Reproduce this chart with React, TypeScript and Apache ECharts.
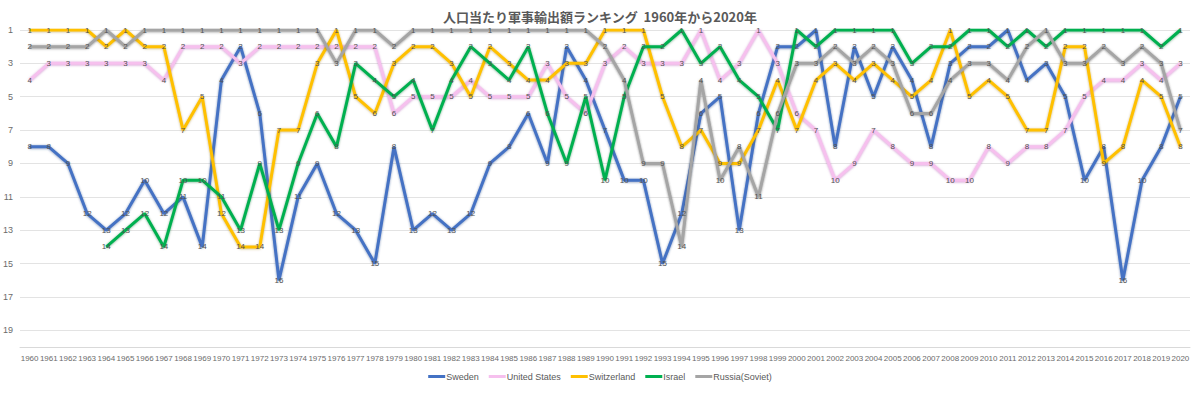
import React, { useEffect, useRef } from "react";
import * as echarts from "echarts";

const years: string[] = [];
for (let y = 1960; y <= 2020; y++) years.push(String(y));

const seriesNames = ["Sweden", "United States", "Switzerland", "Israel", "Russia(Soviet)"];

// 1960 .. 2020
const sweden = [
  8, 8, 9, 12, 13, 12, 10, 12, 11, 14,
  4, 2, 6, 16, 11, 9, 12, 13, 15, 8,
  13, 12, 13, 12, 9, 8, 6, 9, 2, 4,
  7, 10, 10, 15, 12, 6, 5, 13, 6, 2,
  2, 1, 8, 2, 5, 2, 4, 8, 3, 2,
  2, 1, 4, 3, 5, 10, 8, 16, 10, 8,
  5,
];
const unitedStates = [
  4, 3, 3, 3, 3, 3, 3, 4, 2, 2,
  2, 3, 2, 2, 2, 2, 2, 2, 2, 6,
  5, 5, 5, 4, 5, 5, 5, 3, 5, 6,
  3, 2, 3, 3, 3, 1, 4, 3, 1, 3,
  6, 7, 10, 9, 7, 8, 9, 9, 10, 10,
  8, 9, 8, 8, 7, 5, 4, 4, 3, 4,
  3,
];
const switzerland = [
  1, 1, 1, 1, 2, 1, 2, 2, 7, 5,
  12, 14, 14, 7, 7, 3, 1, 5, 6, 3,
  2, 2, 3, 5, 2, 3, 4, 4, 3, 3,
  1, 1, 1, 5, 8, 7, 9, 9, 7, 4,
  7, 4, 3, 4, 3, 4, 5, 4, 1, 5,
  4, 5, 7, 7, 2, 2, 9, 8, 4, 5,
  8,
];
const israel: (number | null)[] = [
  null, null, null, null, 14, 13, 12, 14, 10, 10,
  11, 13, 9, 13, 9, 6, 8, 3, 4, 5,
  4, 7, 4, 2, 3, 4, 2, 6, 9, 5,
  10, 5, 2, 2, 1, 3, 2, 4, 5, 7,
  1, 2, 1, 1, 1, 1, 3, 2, 2, 1,
  1, 2, 1, 2, 1, 1, 1, 1, 1, 2,
  1,
];
const russia = [
  2, 2, 2, 2, 1, 2, 1, 1, 1, 1,
  1, 1, 1, 1, 1, 1, 3, 1, 1, 2,
  1, 1, 1, 1, 1, 1, 1, 1, 1, 1,
  2, 4, 9, 9, 14, 4, 10, 8, 11, 6,
  3, 3, 2, 3, 2, 3, 6, 6, 4, 3,
  3, 4, 2, 1, 3, 3, 2, 3, 2, 3,
  7,
];

const seriesData = [sweden, unitedStates, switzerland, israel, russia];
const colors = ["#4472C4", "#F6C0EE", "#FFC000", "#00B050", "#A5A5A5"];
const shadowColors = [
  "rgba(30,60,130,0.55)",
  "rgba(190,110,190,0.7)",
  "rgba(150,110,0,0.5)",
  "rgba(0,100,40,0.5)",
  "rgba(70,70,70,0.6)",
];

export default function App() {
  const ref = useRef<HTMLDivElement>(null);
  useEffect(() => {
    if (!ref.current) return;
    const chart = echarts.init(ref.current, undefined, { renderer: "svg" });
    chart.setOption({
      animation: false,
      backgroundColor: "#ffffff",
      title: {
        text: "人口当たり軍事輸出額ランキング  1960年から2020年",
        left: "center",
        top: 5,
        textStyle: {
          fontFamily: "'Noto Sans CJK JP', sans-serif",
          fontSize: 13,
          fontWeight: "bold",
          color: "#595959",
        },
      },
      legend: {
        bottom: 7,
        left: "center",
        icon: "rect",
        itemWidth: 17,
        itemHeight: 3,
        itemGap: 10,
        textStyle: { fontSize: 9, color: "#595959", fontFamily: "Liberation Sans, sans-serif", padding: [0, 0, 0, -4] },
        data: seriesNames,
      },
      grid: { left: 19, right: 10, top: 30, bottom: 46, containLabel: false },
      xAxis: {
        type: "category",
        data: years,
        boundaryGap: true,
        axisTick: { show: false },
        axisLine: { lineStyle: { color: "#D9D9D9" } },
        axisLabel: {
          interval: 0,
          fontSize: 8,
          color: "#6b6b6b",
          margin: 7,
          fontFamily: "Liberation Sans, sans-serif",
        },
      },
      yAxis: {
        type: "value",
        inverse: true,
        min: 1,
        max: 20,
        interval: 2,
        axisLine: { show: false },
        axisTick: { show: false },
        splitLine: { lineStyle: { color: "#E3E3E3" } },
        axisLabel: {
          fontSize: 9,
          color: "#6b6b6b",
          margin: 7,
          fontFamily: "Liberation Sans, sans-serif",
          formatter: (v: number) => (v % 2 === 1 ? String(v) : ""),
        },
      },
      series: seriesNames.map((name, i) => ({
        name,
        type: "line",
        data: seriesData[i],
        connectNulls: false,
        symbol: "circle",
        symbolSize: 1,
        itemStyle: { color: colors[i] },
        lineStyle: {
          width: 3,
          color: colors[i],
          shadowColor: shadowColors[i],
          shadowBlur: 2,
          shadowOffsetY: 0.5,
        },
        label: {
          show: true,
          position: "inside",
          fontSize: 8,
          color: "#505050",
          fontFamily: "Liberation Sans, sans-serif",
        },
        emphasis: { disabled: true },
      })),
    });
    return () => chart.dispose();
  }, []);
  return <div ref={ref} style={{ width: 1200, height: 393, position: "absolute", left: 0, top: 0 }} />;
}
